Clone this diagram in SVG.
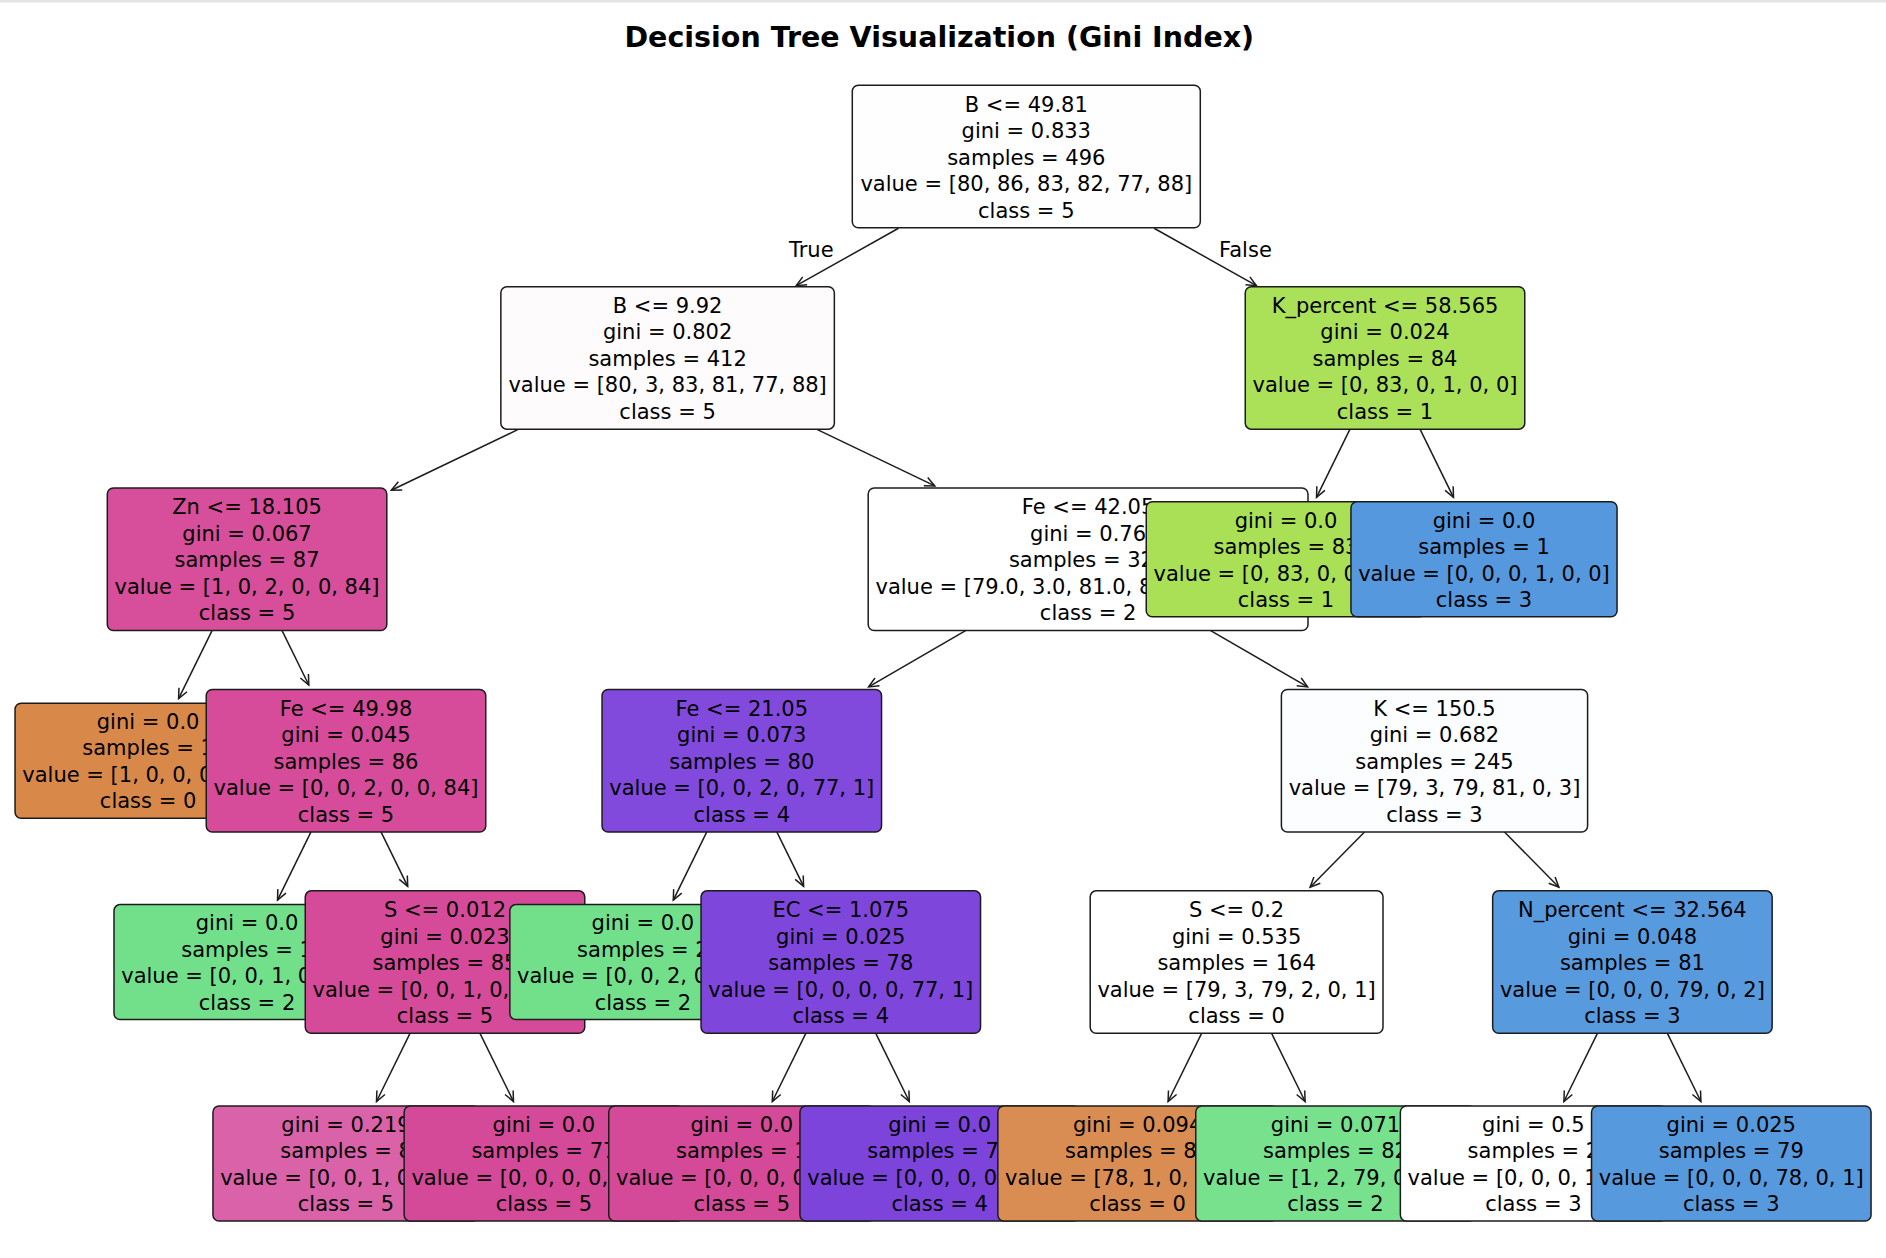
<svg xmlns="http://www.w3.org/2000/svg" width="1886" height="1258" viewBox="0 0 1886 1258">
<style>
.n rect{stroke:#1c1c1c;stroke-width:1.5}
.n text,.lbl{font-family:"DejaVu Sans","Liberation Sans",sans-serif;font-size:21px;fill:#000}
.n text{text-anchor:middle}
.c line{stroke:#1c1c1c;stroke-width:1.5;fill:none;marker-end:url(#ah)}
.title{font-family:"DejaVu Sans","Liberation Sans",sans-serif;font-size:28.5px;font-weight:bold;fill:#000;text-anchor:middle}
</style>
<defs>
<marker id="ah" viewBox="-12 -7 14 14" refX="0" refY="0" markerWidth="14" markerHeight="14" markerUnits="userSpaceOnUse" orient="auto">
<path d="M-10,-4.5 L0,0 L-10,4.5" fill="none" stroke="#1c1c1c" stroke-width="1.5"/>
</marker>
</defs>
<rect x="0" y="0" width="1886" height="1258" fill="#ffffff"/>
<rect x="0" y="0" width="1886" height="2.5" fill="#e3e3e3"/>
<text class="title" x="939.3" y="46.5">Decision Tree Visualization (Gini Index)</text>
<g id="connectors" class="c">
<line x1="898.5" y1="228.25" x2="796.2" y2="285.7"/>
<line x1="1154.1" y1="228.25" x2="1256.4" y2="285.7"/>
<line x1="518.8" y1="429.15" x2="391.3" y2="490.2"/>
<line x1="212.04" y1="630.55" x2="178.6" y2="698.7"/>
<line x1="282.06" y1="630.55" x2="308.8" y2="685.0"/>
<line x1="310.99" y1="831.95" x2="277.5" y2="900.1"/>
<line x1="381.01" y1="831.95" x2="407.7" y2="886.4"/>
<line x1="409.99" y1="1033.35" x2="376.5" y2="1101.5"/>
<line x1="480.01" y1="1033.35" x2="513.5" y2="1101.5"/>
<line x1="816.4" y1="429.15" x2="934.8" y2="485.9"/>
<line x1="965.6" y1="630.55" x2="868.6" y2="686.9"/>
<line x1="706.8" y1="831.95" x2="673.3" y2="900.1"/>
<line x1="776.8" y1="831.95" x2="803.6" y2="886.4"/>
<line x1="805.8" y1="1033.35" x2="772.3" y2="1101.5"/>
<line x1="875.8" y1="1033.35" x2="909.3" y2="1101.5"/>
<line x1="1210.65" y1="630.55" x2="1307.6" y2="686.9"/>
<line x1="1364.5" y1="831.95" x2="1310.1" y2="887.3"/>
<line x1="1504.5" y1="831.95" x2="1558.9" y2="887.3"/>
<line x1="1201.6" y1="1033.35" x2="1168.1" y2="1101.5"/>
<line x1="1271.6" y1="1033.35" x2="1305.1" y2="1101.5"/>
<line x1="1597.4" y1="1033.35" x2="1563.9" y2="1101.5"/>
<line x1="1667.4" y1="1033.35" x2="1700.9" y2="1101.5"/>
<line x1="1349.98" y1="429.15" x2="1316.5" y2="497.3"/>
<line x1="1420.02" y1="429.15" x2="1453.5" y2="497.3"/>
</g>
<text class="lbl" x="833.6" y="257.2" text-anchor="end">True</text>
<text class="lbl" x="1219.1" y="257.2">False</text>
<g id="n0" class="n"><rect x="852.3" y="85.25" width="348" height="142.5" rx="6" fill="#fffefe"/>
<text x="1026.3" y="111.5">B &lt;= 49.81</text><text x="1026.3" y="138">gini = 0.833</text><text x="1026.3" y="164.5">samples = 496</text><text x="1026.3" y="191">value = [80, 86, 83, 82, 77, 88]</text><text x="1026.3" y="217.5">class = 5</text></g>
<g id="n1" class="n"><rect x="500.85" y="286.65" width="333.5" height="142.5" rx="6" fill="#fefbfd"/>
<text x="667.6" y="312.9">B &lt;= 9.92</text><text x="667.6" y="339.4">gini = 0.802</text><text x="667.6" y="365.9">samples = 412</text><text x="667.6" y="392.4">value = [80, 3, 83, 81, 77, 88]</text><text x="667.6" y="418.9">class = 5</text></g>
<g id="n2" class="n"><rect x="107.3" y="488.05" width="279.5" height="142.5" rx="6" fill="#d74e9b"/>
<text x="247.05" y="514.3">Zn &lt;= 18.105</text><text x="247.05" y="540.8">gini = 0.067</text><text x="247.05" y="567.3">samples = 87</text><text x="247.05" y="593.8">value = [1, 0, 2, 0, 0, 84]</text><text x="247.05" y="620.3">class = 5</text></g>
<g id="n3" class="n"><rect x="15.05" y="703.2" width="266.1" height="115" rx="6" fill="#d8894a"/>
<text x="148.1" y="728.95">gini = 0.0</text><text x="148.1" y="755.45">samples = 1</text><text x="148.1" y="781.95">value = [1, 0, 0, 0, 0, 0]</text><text x="148.1" y="808.45">class = 0</text></g>
<g id="n4" class="n"><rect x="206.25" y="689.45" width="279.5" height="142.5" rx="6" fill="#d64c9a"/>
<text x="346" y="715.7">Fe &lt;= 49.98</text><text x="346" y="742.2">gini = 0.045</text><text x="346" y="768.7">samples = 86</text><text x="346" y="795.2">value = [0, 0, 2, 0, 0, 84]</text><text x="346" y="821.7">class = 5</text></g>
<g id="n5" class="n"><rect x="114" y="904.6" width="266.1" height="115" rx="6" fill="#72e08a"/>
<text x="247.05" y="930.35">gini = 0.0</text><text x="247.05" y="956.85">samples = 1</text><text x="247.05" y="983.35">value = [0, 0, 1, 0, 0, 0]</text><text x="247.05" y="1009.85">class = 2</text></g>
<g id="n6" class="n"><rect x="305.25" y="890.85" width="279.5" height="142.5" rx="6" fill="#d64b99"/>
<text x="445" y="917.1">S &lt;= 0.012</text><text x="445" y="943.6">gini = 0.023</text><text x="445" y="970.1">samples = 85</text><text x="445" y="996.6">value = [0, 0, 1, 0, 0, 84]</text><text x="445" y="1023.1">class = 5</text></g>
<g id="n7" class="n"><rect x="212.95" y="1106" width="266.1" height="115" rx="6" fill="#da62a9"/>
<text x="346" y="1131.75">gini = 0.219</text><text x="346" y="1158.25">samples = 8</text><text x="346" y="1184.75">value = [0, 0, 1, 0, 0, 7]</text><text x="346" y="1211.25">class = 5</text></g>
<g id="n8" class="n"><rect x="404.15" y="1106" width="279.5" height="115" rx="6" fill="#d54a98"/>
<text x="543.9" y="1131.75">gini = 0.0</text><text x="543.9" y="1158.25">samples = 77</text><text x="543.9" y="1184.75">value = [0, 0, 0, 0, 0, 77]</text><text x="543.9" y="1211.25">class = 5</text></g>
<g id="n9" class="n"><rect x="868.2" y="488.05" width="439.8" height="142.5" rx="6" fill="#ffffff"/>
<text x="1088.1" y="514.3">Fe &lt;= 42.05</text><text x="1088.1" y="540.8">gini = 0.76</text><text x="1088.1" y="567.3">samples = 325</text><text x="1088.1" y="593.8">value = [79.0, 3.0, 81.0, 81.0, 77.0, 4.0]</text><text x="1088.1" y="620.3">class = 2</text></g>
<g id="n10" class="n"><rect x="602.05" y="689.45" width="279.5" height="142.5" rx="6" fill="#8249dd"/>
<text x="741.8" y="715.7">Fe &lt;= 21.05</text><text x="741.8" y="742.2">gini = 0.073</text><text x="741.8" y="768.7">samples = 80</text><text x="741.8" y="795.2">value = [0, 0, 2, 0, 77, 1]</text><text x="741.8" y="821.7">class = 4</text></g>
<g id="n11" class="n"><rect x="509.85" y="904.6" width="266.1" height="115" rx="6" fill="#72e08a"/>
<text x="642.9" y="930.35">gini = 0.0</text><text x="642.9" y="956.85">samples = 2</text><text x="642.9" y="983.35">value = [0, 0, 2, 0, 0, 0]</text><text x="642.9" y="1009.85">class = 2</text></g>
<g id="n12" class="n"><rect x="701.05" y="890.85" width="279.5" height="142.5" rx="6" fill="#7f46dc"/>
<text x="840.8" y="917.1">EC &lt;= 1.075</text><text x="840.8" y="943.6">gini = 0.025</text><text x="840.8" y="970.1">samples = 78</text><text x="840.8" y="996.6">value = [0, 0, 0, 0, 77, 1]</text><text x="840.8" y="1023.1">class = 4</text></g>
<g id="n13" class="n"><rect x="608.75" y="1106" width="266.1" height="115" rx="6" fill="#d54a98"/>
<text x="741.8" y="1131.75">gini = 0.0</text><text x="741.8" y="1158.25">samples = 1</text><text x="741.8" y="1184.75">value = [0, 0, 0, 0, 0, 1]</text><text x="741.8" y="1211.25">class = 5</text></g>
<g id="n14" class="n"><rect x="799.95" y="1106" width="279.5" height="115" rx="6" fill="#7d44dc"/>
<text x="939.7" y="1131.75">gini = 0.0</text><text x="939.7" y="1158.25">samples = 77</text><text x="939.7" y="1184.75">value = [0, 0, 0, 0, 77, 0]</text><text x="939.7" y="1211.25">class = 4</text></g>
<g id="n15" class="n"><rect x="1281.4" y="689.45" width="306.2" height="142.5" rx="6" fill="#fcfdff"/>
<text x="1434.5" y="715.7">K &lt;= 150.5</text><text x="1434.5" y="742.2">gini = 0.682</text><text x="1434.5" y="768.7">samples = 245</text><text x="1434.5" y="795.2">value = [79, 3, 79, 81, 0, 3]</text><text x="1434.5" y="821.7">class = 3</text></g>
<g id="n16" class="n"><rect x="1090.2" y="890.85" width="292.8" height="142.5" rx="6" fill="#ffffff"/>
<text x="1236.6" y="917.1">S &lt;= 0.2</text><text x="1236.6" y="943.6">gini = 0.535</text><text x="1236.6" y="970.1">samples = 164</text><text x="1236.6" y="996.6">value = [79, 3, 79, 2, 0, 1]</text><text x="1236.6" y="1023.1">class = 0</text></g>
<g id="n17" class="n"><rect x="997.85" y="1106" width="279.5" height="115" rx="6" fill="#d98d52"/>
<text x="1137.6" y="1131.75">gini = 0.094</text><text x="1137.6" y="1158.25">samples = 82</text><text x="1137.6" y="1184.75">value = [78, 1, 0, 2, 0, 1]</text><text x="1137.6" y="1211.25">class = 0</text></g>
<g id="n18" class="n"><rect x="1195.75" y="1106" width="279.5" height="115" rx="6" fill="#78e18e"/>
<text x="1335.5" y="1131.75">gini = 0.071</text><text x="1335.5" y="1158.25">samples = 82</text><text x="1335.5" y="1184.75">value = [1, 2, 79, 0, 0, 0]</text><text x="1335.5" y="1211.25">class = 2</text></g>
<g id="n19" class="n"><rect x="1492.65" y="890.85" width="279.5" height="142.5" rx="6" fill="#589ade"/>
<text x="1632.4" y="917.1">N_percent &lt;= 32.564</text><text x="1632.4" y="943.6">gini = 0.048</text><text x="1632.4" y="970.1">samples = 81</text><text x="1632.4" y="996.6">value = [0, 0, 0, 79, 0, 2]</text><text x="1632.4" y="1023.1">class = 3</text></g>
<g id="n20" class="n"><rect x="1400.35" y="1106" width="266.1" height="115" rx="6" fill="#ffffff"/>
<text x="1533.4" y="1131.75">gini = 0.5</text><text x="1533.4" y="1158.25">samples = 2</text><text x="1533.4" y="1184.75">value = [0, 0, 0, 1, 0, 1]</text><text x="1533.4" y="1211.25">class = 3</text></g>
<g id="n21" class="n"><rect x="1591.55" y="1106" width="279.5" height="115" rx="6" fill="#5699dd"/>
<text x="1731.3" y="1131.75">gini = 0.025</text><text x="1731.3" y="1158.25">samples = 79</text><text x="1731.3" y="1184.75">value = [0, 0, 0, 78, 0, 1]</text><text x="1731.3" y="1211.25">class = 3</text></g>
<g id="n22" class="n"><rect x="1245.25" y="286.65" width="279.5" height="142.5" rx="6" fill="#aae158"/>
<text x="1385" y="312.9">K_percent &lt;= 58.565</text><text x="1385" y="339.4">gini = 0.024</text><text x="1385" y="365.9">samples = 84</text><text x="1385" y="392.4">value = [0, 83, 0, 1, 0, 0]</text><text x="1385" y="418.9">class = 1</text></g>
<g id="n23" class="n"><rect x="1146.25" y="501.8" width="279.5" height="115" rx="6" fill="#a9e056"/>
<text x="1286" y="527.55">gini = 0.0</text><text x="1286" y="554.05">samples = 83</text><text x="1286" y="580.55">value = [0, 83, 0, 0, 0, 0]</text><text x="1286" y="607.05">class = 1</text></g>
<g id="n24" class="n"><rect x="1350.95" y="501.8" width="266.1" height="115" rx="6" fill="#5598dd"/>
<text x="1484" y="527.55">gini = 0.0</text><text x="1484" y="554.05">samples = 1</text><text x="1484" y="580.55">value = [0, 0, 0, 1, 0, 0]</text><text x="1484" y="607.05">class = 3</text></g>
</svg>
